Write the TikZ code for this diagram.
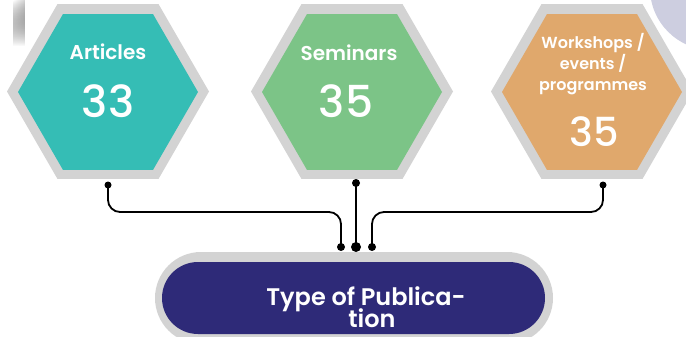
\documentclass[tikz,border=0pt]{standalone}
\usepackage{fontspec}
\setmainfont{Poppins}
\newfontfamily\popsb{Poppins SemiBold}
\newfontfamily\popmed{Poppins Medium}
\usetikzlibrary{shapes.geometric,fadings}
\definecolor{tealhex}{HTML}{35BDB5}
\definecolor{greenhex}{HTML}{7CC487}
\definecolor{orangehex}{HTML}{E0A86C}
\definecolor{rim}{HTML}{D3D3D3}
\definecolor{navy}{HTML}{2E2A78}
\definecolor{lav}{HTML}{CDCEE0}
\begin{document}
\begin{tikzpicture}[x=1pt,y=-1pt,
  hexo/.style={regular polygon, regular polygon sides=6, minimum size=202pt, inner sep=0pt, fill=rim},
  hexi/.style={regular polygon, regular polygon sides=6, minimum size=180pt, inner sep=0pt},
  lbl/.style={text=white, font=\popsb\fontsize{20}{22}\selectfont, align=center},
  num/.style={text=white, font=\popmed\fontsize{44}{46}\selectfont},
  dot/.style={circle, fill=black, inner sep=0pt, minimum size=#1},
  conn/.style={line width=1.8pt, rounded corners=12pt}]
\useasboundingbox (0,0) rectangle (686,337);
\clip (0,0) rectangle (686,337);
% background decorations
\fill[lav] (712,-12) circle (62);
\fill[left color=white, right color=gray!35, path fading=south] (13,0) rectangle (25,46);
% hexagons
\node[hexo] (h1o) at (108,91.5) {};
\node[hexi, fill=tealhex] (h1) at (108,92) {};
\node[hexo] (h2o) at (352,91.5) {};
\node[hexi, fill=greenhex] (h2) at (352,92) {};
\node[hexo] (h3o) at (592,91.5) {};
\node[hexi, fill=orangehex] (h3) at (592,92) {};
% texts
\node[lbl] (t1) at (108,52) {Articles};
\node[num] (n1) at (108,101) {33};
\node[lbl] (t2) at (349,53) {Seminars};
\node[num] (n2) at (346,101) {35};
\node[lbl, font=\popsb\fontsize{16}{21}\selectfont] (t3) at (593,64) {Workshops /\\events /\\programmes};
\node[num, font=\popmed\fontsize{40}{42}\selectfont] (n3) at (594,132) {35};
% pill
\fill[rim, rounded corners=46pt] (155,252) rectangle (553,344);
\node[fill=navy, rounded corners=36pt, minimum width=383pt, minimum height=72pt, inner sep=0pt] (pill) at (353.5,298) {};
\node[text=white, font=\popsb\fontsize{24}{24}\selectfont, align=center] (pt) at (366,307) {Type of Publica-\\[-4pt]\hspace*{12pt}tion};
% dots
\node[dot=7pt] (d1) at (108,185) {};
\node[dot=8pt] (d2) at (356,183) {};
\node[dot=7pt] (d3) at (603,185) {};
\node[dot=8pt] (b1) at (341,247) {};
\node[dot=10pt] (b2) at (356,247) {};
\node[dot=8pt] (b3) at (372,247) {};
\coordinate (hl) at (0,212);
% connectors
\draw[conn] (d1.center) -- (d1.center |- hl) -- (b1.center |- hl) -- (b1.center);
\draw[conn] (d2.center) -- (b2.center);
\draw[conn] (d3.center) -- (d3.center |- hl) -- (b3.center |- hl) -- (b3.center);
\end{tikzpicture}
\end{document}
